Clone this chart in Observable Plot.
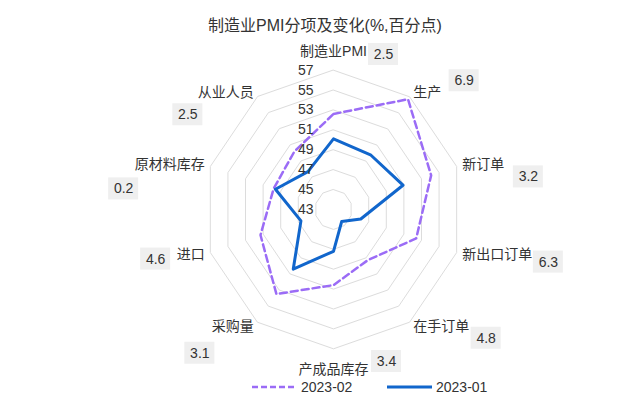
<!DOCTYPE html>
<html>
<head>
<meta charset="utf-8">
<script src="https://cdn.jsdelivr.net/npm/d3@7"></script>
<script src="https://cdn.jsdelivr.net/npm/@observablehq/plot@0.6"></script>
<style>
  html, body { margin: 0; padding: 0; background: #fff; }
  body { width: 640px; height: 408px; overflow: hidden; position: relative;
         font-family: "Liberation Sans", "Noto Sans CJK SC", sans-serif; color: #333; }
  #title { position: absolute; left: 325px; top: 15px; transform: translateX(-50%);
           font-size: 16px; white-space: nowrap; color: #333; line-height: 22px; }
  #chart { position: absolute; left: 0; top: 40px; }
  #legend { position: absolute; left: 0; top: 380px; width: 640px; height: 28px; font-size: 14px; }
  .lg { position: absolute; top: -2px; display: flex; align-items: center; height: 18px; }
  .lg svg { margin-right: 4px; }
</style>
</head>
<body>
<div id="title">制造业PMI分项及变化(%,百分点)</div>
<div id="chart"></div>
<div id="legend"></div>
<script>
// ---- data ----
const categories = ["制造业PMI","生产","新订单","新出口订单","在手订单","产成品库存","采购量","进口","原材料库存","从业人员"];
const feb2023 = [52.6, 56.7, 54.1, 52.4, 49.3, 50.6, 53.5, 51.3, 49.8, 50.2];
const jan2023 = [50.1, 49.8, 50.9, 46.1, 44.5, 47.2, 50.4, 46.7, 49.6, 47.7];
const changes = ["2.5","6.9","3.2","6.3","4.8","3.4","3.1","4.6","0.2","2.5"];
const ticks = [43, 45, 47, 49, 51, 53, 55, 57];
const seriesNames = ["2023-02", "2023-01"];

// ---- layout (pixels) ----
const W = 640, H = 340;
const CX = 333, CY = 169;          // centre of radar in svg px
const PX = 9.25, PY = 9.95;        // px per PMI point (x / y)
const base = 43;
const badgeOffsets = [[50,3],[51,-12],[66,12],[86,8],[73,12],[53,-8],[-54,27],[-49,5],[-81,24],[-66,22]];
const colors = {feb: "#9b6cf6", jan: "#1166cc", grid: "#dcdcdc", badge: "#efefef", text: "#333"};

const n = categories.length;
const ang = i => i * 2 * Math.PI / n;
const pt = (v, i) => ({x: (v - base) * Math.sin(ang(i)), y: (v - base) * Math.cos(ang(i))});

// rings
const rings = [];
ticks.filter(t => t > base).forEach(t => categories.forEach((c, i) => rings.push({ring: t, ...pt(t, i)})));
const febPts = feb2023.map((v, i) => pt(v, i));
const janPts = jan2023.map((v, i) => pt(v, i));

// axis names
const names = categories.map((c, i) => {
  const s = Math.sin(ang(i)), co = Math.cos(ang(i));
  let xpx, ypx, side;
  if (Math.abs(s) < 1e-6) {
    xpx = 0; ypx = co > 0 ? 158 : -160; side = "mid";
  } else {
    xpx = 135.5 * s; ypx = 144.3 * co; side = s > 0 ? "right" : "left";
  }
  const [ox, oy] = badgeOffsets[i];
  const bx = xpx + ox, by = ypx - oy;
  return {name: c, change: changes[i], side,
          x: xpx / PX, y: ypx / PY,
          bx: bx / PX, by: by / PY,
          bx1: (bx - 15) / PX, bx2: (bx + 15) / PX,
          by1: (by - 11) / PY, by2: (by + 11) / PY};
});

const tickData = ticks.map(t => ({t, x: 0, y: t - base}));

const chart = Plot.plot({
  width: W, height: H,
  margin: 0,
  x: {domain: [-CX / PX, (W - CX) / PX], axis: null},
  y: {domain: [-(H - CY) / PY, CY / PY], axis: null},
  style: {fontFamily: '"Liberation Sans", "Noto Sans CJK SC", sans-serif', fontSize: "14px", color: colors.text, background: "#fff"},
  marks: [
    Plot.line(rings, {x: "x", y: "y", z: "ring", curve: "linear-closed", stroke: colors.grid, strokeWidth: 1}),
    Plot.line(febPts, {x: "x", y: "y", curve: "linear-closed", stroke: colors.feb, strokeWidth: 2.5, strokeDasharray: "7,4"}),
    Plot.line(janPts, {x: "x", y: "y", curve: "linear-closed", stroke: colors.jan, strokeWidth: 3}),
    Plot.text(tickData, {x: "x", y: "y", text: d => String(d.t), dx: -20, textAnchor: "end", fill: colors.text, fontSize: 14}),
    Plot.text(names.filter(d => d.side === "right"), {x: "x", y: "y", text: "name", textAnchor: "start", fill: colors.text, fontSize: 14}),
    Plot.text(names.filter(d => d.side === "left"), {x: "x", y: "y", text: "name", textAnchor: "end", fill: colors.text, fontSize: 14}),
    Plot.text(names.filter(d => d.side === "mid"), {x: "x", y: "y", text: "name", textAnchor: "middle", fill: colors.text, fontSize: 14}),
    Plot.rect(names, {x1: "bx1", x2: "bx2", y1: "by1", y2: "by2", fill: colors.badge}),
    Plot.text(names, {x: "bx", y: "by", text: "change", textAnchor: "middle", fill: colors.text, fontSize: 14})
  ]
});
document.getElementById("chart").appendChild(chart);

// legend
const legend = document.getElementById("legend");
const items = [
  {label: seriesNames[0], color: colors.feb, dash: "6,3", w: 2.5, left: 252},
  {label: seriesNames[1], color: colors.jan, dash: null, w: 3, left: 387}
];
items.forEach(it => {
  const div = document.createElement("div");
  div.className = "lg";
  div.style.left = it.left + "px";
  const svg = d3.create("svg").attr("width", 45).attr("height", 6);
  svg.append("line").attr("x1", 0).attr("x2", 45).attr("y1", 3).attr("y2", 3)
    .attr("stroke", it.color).attr("stroke-width", it.w)
    .attr("stroke-dasharray", it.dash);
  div.appendChild(svg.node());
  const span = document.createElement("span");
  span.textContent = it.label;
  div.appendChild(span);
  legend.appendChild(div);
});
</script>
</body>
</html>
